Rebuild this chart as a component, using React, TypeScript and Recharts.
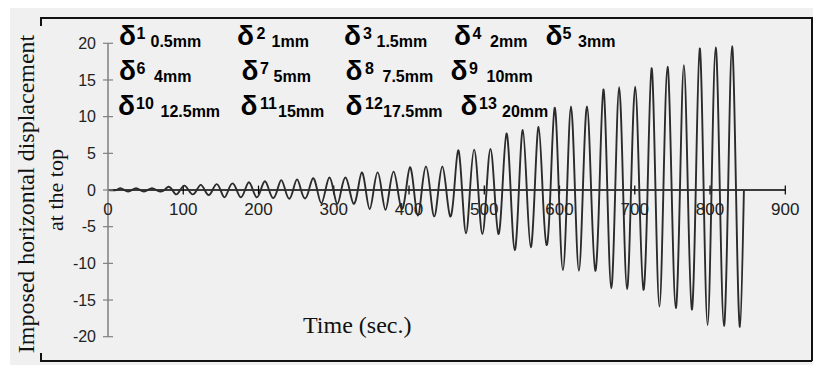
import React from 'react';
import { Line, LineChart, ReferenceLine, XAxis, YAxis } from 'recharts';

// start time (sec.) of every loading cycle, last entry = end of the record
const cycleStart = [
  11, 32, 53, 75, 96, 118, 139, 160, 182, 203, 225, 246, 267, 289, 310, 332, 353, 374, 396, 417,
  439, 460, 481, 503, 524, 546, 567, 588, 610, 631, 653, 674, 695, 717, 738, 760, 781, 802, 824, 845,
];

// positive peak of each cycle
const peaks = [
  0.25, 0.25, 0.25, 0.45, 0.6, 0.7, 0.8, 0.9, 1.05, 1.2, 1.35, 1.45, 1.6, 1.7, 1.7, 2.4, 2.4, 2.5,
  3.1, 3.2, 3.2, 5.4, 5.5, 5.6, 7.7, 8.2, 8.6, 11.2, 11.4, 11.4, 13.7, 14.0, 14.1, 16.6, 16.8, 17.0,
  19.3, 19.45, 19.6,
];

// negative peak of each cycle
const troughs = [
  -0.2, -0.2, -0.2, -0.6, -0.6, -0.7, -1.0, -1.0, -1.0, -1.1, -1.2, -1.15, -1.8, -1.9, -1.9, -2.6,
  -2.7, -2.6, -3.5, -3.6, -3.6, -5.9, -6.0, -6.0, -8.2, -7.8, -7.5, -10.9, -11.0, -11.0, -13.4,
  -13.5, -13.6, -15.9, -16.1, -16.3, -18.4, -18.55, -18.65,
];

const xTicks = [0, 100, 200, 300, 400, 500, 600, 700, 800, 900];
const yTicks = [-20, -15, -10, -5, 0, 5, 10, 15, 20];

const legendIndex = ['1', '2', '3', '4', '5', '6', '7', '8', '9', '10', '11', '12', '13'];
const legendAmp = [
  '0.5mm', '1mm', '1.5mm', '2mm', '3mm', '4mm', '5mm', '7.5mm', '10mm', '12.5mm', '15mm', '17.5mm',
  '20mm',
];

// legend layout: [delta x, superscript x, subscript x, row]
const legendPos = [
  [119, 136.5, 150.5, 0], [237, 256.5, 271.5, 0], [344, 363, 376.5, 0], [454, 472.5, 490, 0],
  [545.5, 562.5, 578, 0],
  [119, 136.5, 154, 1], [241.5, 260, 273.5, 1], [345.5, 365, 382.5, 1], [450.5, 469, 486.5, 1],
  [118, 136, 160.5, 2], [240.5, 260, 278, 2], [345.5, 365, 383, 2], [460.5, 479, 502, 2],
];
const rowBase = [45, 80, 115];

const data: { t: number; v: number }[] = [{ t: 0, v: 0 }];
peaks.forEach((p, i) => {
  const a = cycleStart[i];
  const T = cycleStart[i + 1] - a;
  data.push({ t: a, v: 0 }, { t: a + T / 4, v: p }, { t: a + T / 2, v: 0 }, { t: a + (3 * T) / 4, v: troughs[i] });
});
data.push({ t: cycleStart[cycleStart.length - 1], v: 0 });

const TICK_SIZE = 5;
const TICK_MARGIN = 7;
const sans = '"Liberation Sans", Arial, sans-serif';
const serif = '"Liberation Serif", "Times New Roman", serif';

const YTick = (props: any) => {
  const { x, y, payload } = props;
  const axisX = x + TICK_SIZE + TICK_MARGIN;
  return (
    <g>
      <line x1={axisX} x2={axisX + 5} y1={y} y2={y} stroke="#808080" strokeWidth={1.2} />
      <text x={x} y={y} dy="0.36em" textAnchor="end" fontFamily={sans} fontSize={16} fill="#222">
        {payload.value}
      </text>
    </g>
  );
};

export default function App() {
  return (
    <div style={{ position: 'absolute', left: 0, top: 0, width: 813, height: 365, background: '#fff', overflow: 'hidden' }}>
      <div style={{ position: 'absolute', left: 10, top: 8, width: 803, height: 357, background: '#f0f0f0' }} />
      <div style={{ position: 'absolute', left: 40, top: 17, width: 772, height: 1.5, background: '#111' }} />
      <div style={{ position: 'absolute', left: 811, top: 17, width: 1.5, height: 344, background: '#111' }} />
      <div style={{ position: 'absolute', left: 40, top: 360, width: 772, height: 1.5, background: '#111' }} />
      <div style={{ position: 'absolute', left: 40, top: 17, width: 1.5, height: 9, background: '#111' }} />
      <div style={{ position: 'absolute', left: 40, top: 353, width: 1.5, height: 8, background: '#111' }} />

      <LineChart
        width={813}
        height={365}
        data={data}
        margin={{ top: 43.3, right: 27.7, bottom: 28.3, left: 48 }}
        style={{ position: 'absolute', left: 0, top: 0 }}
      >
        <XAxis type="number" dataKey="t" domain={[0, 900]} ticks={xTicks} hide />
        <YAxis
          type="number"
          domain={[-20, 20]}
          ticks={yTicks}
          width={60}
          axisLine={{ stroke: '#808080', strokeWidth: 1.5 }}
          tickLine={{ stroke: '#808080', strokeWidth: 1.2 }}
          tickSize={TICK_SIZE}
          tickMargin={TICK_MARGIN}
          tick={<YTick />}
          interval={0}
        />
        <ReferenceLine y={0} stroke="#000" strokeWidth={1.3} />
        {xTicks.map((t) => (
          <ReferenceLine
            key={t}
            segment={[{ x: t, y: -0.6 }, { x: t, y: 0.6 }]}
            stroke={t === 0 ? 'none' : '#000'}
            strokeWidth={1.2}
            ifOverflow="visible"
            label={{ value: String(t), position: 'bottom', offset: 9, fill: '#222', fontSize: 17, fontFamily: sans }}
          />
        ))}
        <Line
          type="natural"
          dataKey="v"
          stroke="#2b2b2b"
          strokeWidth={1.9}
          dot={false}
          activeDot={false}
          isAnimationActive={false}
        />
      </LineChart>

      <svg width={813} height={365} style={{ position: 'absolute', left: 0, top: 0, pointerEvents: 'none' }}>
        {legendIndex.map((n, i) => {
          const [dx, sx, bx, row] = legendPos[i];
          const base = rowBase[row];
          return (
            <g key={n} fontFamily={sans} fontWeight="bold" fill="#000">
              <text x={dx} y={base} fontSize={28}>δ</text>
              <text x={sx} y={base - 6} fontSize={16}>{n}</text>
              <text x={bx} y={base + 2} fontSize={16}>{legendAmp[i]}</text>
            </g>
          );
        })}
        <text x={34} y={194} transform="rotate(-90 34 194)" textAnchor="middle" fontFamily={serif} fontSize={24} fill="#111">
          Imposed horizontal displacement
        </text>
        <text x={63} y={190} transform="rotate(-90 63 190)" textAnchor="middle" fontFamily={serif} fontSize={22} fill="#111">
          at the top
        </text>
        <text x={303} y={333} fontFamily={serif} fontSize={24} fill="#111">
          Time (sec.)
        </text>
      </svg>
    </div>
  );
}
